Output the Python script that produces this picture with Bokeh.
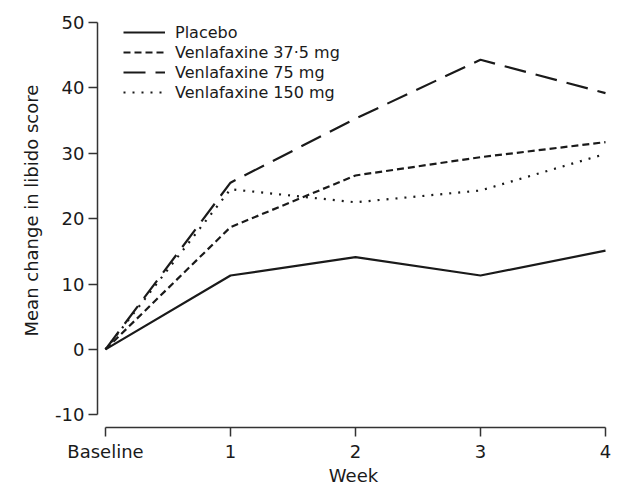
from bokeh.plotting import figure
from bokeh.models import Range1d, FixedTicker, Legend, LegendItem, Title
from bokeh.embed import file_html
from bokeh.resources import INLINE

# ---- data ----
weeks = [0, 1, 2, 3, 4]
week_labels = ["Baseline", "1", "2", "3", "4"]
placebo = [0, 11.3, 14.1, 11.3, 15.1]
venla_37_5 = [0, 18.7, 26.6, 29.4, 31.7]
venla_75 = [0, 25.5, 35.3, 44.3, 39.2]
venla_150 = [0, 24.5, 22.5, 24.3, 29.9]
series_names = ["Placebo", "Venlafaxine 37\u00b75 mg", "Venlafaxine 75 mg", "Venlafaxine 150 mg"]
y_ticks = [-10, 0, 10, 20, 30, 40, 50]
y_tick_labels = ["-10", "0", "10", "20", "30", "40", "50"]

FONT = "DejaVu Sans"
INK = "#1a1a1a"

p = figure(width=611, height=488, output_backend="svg", toolbar_location=None,
           x_range=Range1d(-0.064, 4.032), y_range=Range1d(-11.95, 50.0),
           min_border_left=97, min_border_right=2, min_border_top=22,
           min_border_bottom=54)
p.outline_line_color = None
p.xgrid.grid_line_color = None
p.ygrid.grid_line_color = None
p.background_fill_color = "white"
p.border_fill_color = "white"

for ax in (p.xaxis[0], p.yaxis[0]):
    ax.axis_line_color = "#333333"
    ax.axis_line_width = 1.5
    ax.major_tick_line_color = "#333333"
    ax.major_tick_line_width = 1.5
    ax.major_tick_in = 0
    ax.major_tick_out = 9
    ax.minor_tick_line_color = None
    ax.major_label_text_font = FONT
    ax.major_label_text_font_size = "18px"
    ax.major_label_text_color = INK
    ax.major_label_standoff = 4

p.xaxis[0].bounds = (0, 4)
p.xaxis[0].ticker = FixedTicker(ticks=weeks)
p.xaxis[0].major_label_overrides = {w: lab for w, lab in zip(weeks, week_labels)}
p.xaxis[0].axis_label = "Week"
p.xaxis[0].axis_label_text_font = FONT
p.xaxis[0].axis_label_text_font_size = "18px"
p.xaxis[0].axis_label_text_font_style = "normal"
p.xaxis[0].axis_label_text_color = INK
p.xaxis[0].axis_label_standoff = 0

p.yaxis[0].bounds = (-10, 50)
p.yaxis[0].ticker = FixedTicker(ticks=y_ticks)
p.yaxis[0].major_label_overrides = {t: lab for t, lab in zip(y_ticks, y_tick_labels)}

ytitle = Title(text="Mean change in libido score", align="left", offset=91,
               text_font=FONT, text_font_size="18px", text_font_style="normal",
               text_color=INK, standoff=21)
p.add_layout(ytitle, "left")

styles = ["solid", "7 4", "22 10", "2 7"]
series = [placebo, venla_37_5, venla_75, venla_150]
items = []
for name, ys, dash in zip(series_names, series, styles):
    r = p.line(weeks, ys, line_color=INK, line_width=2.2, line_dash=dash)
    items.append(LegendItem(label=name, renderers=[r]))

legend = Legend(items=items, location=(26, 325), padding=0, spacing=0, margin=0,
                glyph_width=42, glyph_height=20, label_height=20,
                label_standoff=10, border_line_color=None,
                background_fill_alpha=0,
                label_text_font=FONT, label_text_font_size="16px",
                label_text_color=INK)
p.add_layout(legend)

open("out.html", "w").write(file_html(p, INLINE))
